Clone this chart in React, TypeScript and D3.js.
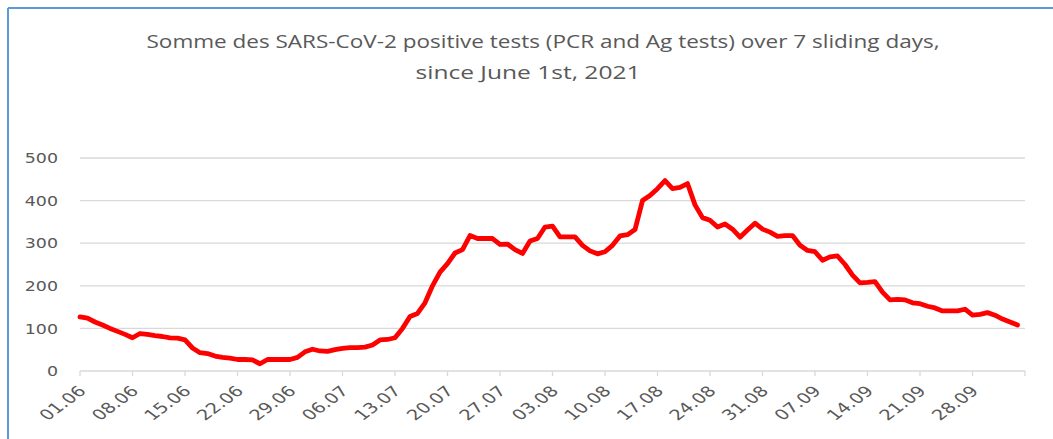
import React from "react";
import * as d3 from "d3";

const titleLines = [
  "Somme des SARS-CoV-2 positive tests (PCR and Ag tests) over 7 sliding days,",
  "since June 1st, 2021",
];

const startDate = new Date(2021, 5, 1);

const values: number[] = [
  127, 124, 115, 108, 100, 93, 86, 78, 88, 86,
  83, 81, 78, 77, 73, 54, 43, 41, 35, 32,
  30, 27, 27, 26, 17, 27, 27, 27, 27, 32,
  45, 51, 47, 46, 50, 53, 55, 55, 56, 61,
  73, 74, 78, 100, 128, 135, 160, 200, 232, 252,
  277, 285, 318, 311, 311, 311, 297, 298, 285, 276,
  305, 311, 338, 340, 315, 315, 315, 295, 282, 275,
  280, 295, 317, 320, 332, 400, 412, 428, 447, 428,
  431, 440, 390, 360, 354, 338, 345, 333, 314, 331,
  347, 333, 326, 316, 318, 318, 295, 283, 280, 260,
  268, 270, 250, 225, 207, 208, 210, 185, 167, 168,
  167, 160, 158, 152, 148, 141, 141, 141, 145, 131,
  133, 137, 131, 122, 115, 108,
];

const yTicks = [0, 100, 200, 300, 400, 500];
const labelEvery = 7;

const W = 1053;
const H = 439;
const margin = { left: 80, right: 28, top: 158, bottom: 68 };

export default function App() {
  const n = values.length;
  const x = d3.scaleLinear().domain([0, n]).range([margin.left, W - margin.right]);
  const y = d3.scaleLinear().domain([0, 500]).range([H - margin.bottom, margin.top]);
  const line = d3
    .line<number>()
    .x((_, i) => x(i))
    .y((d) => y(d))
    .curve(d3.curveLinear);
  const fmt = d3.timeFormat("%d.%m");
  const tickIdx = d3.range(0, n, labelEvery);
  const base = y(0);
  const font = "'DejaVu Sans', sans-serif";

  return (
    <svg
      width={W}
      height={H}
      style={{ position: "fixed", left: 0, top: 0, background: "#fff" }}
    >
      <rect x={0} y={0} width={W} height={H} fill="#fff" />
      <line x1={8} y1={8} x2={W} y2={8} stroke="#5B9BD5" strokeWidth={2} />
      <line x1={8} y1={8} x2={8} y2={H} stroke="#5B9BD5" strokeWidth={2} />
      <text
        x={543}
        y={48}
        textAnchor="middle"
        fontFamily="'Open Sans', sans-serif"
        fontSize={19}
        fill="#595959"
        textLength={793}
        lengthAdjust="spacingAndGlyphs"
      >
        {titleLines[0]}
      </text>
      <text
        x={528}
        y={79}
        textAnchor="middle"
        fontFamily="'Open Sans', sans-serif"
        fontSize={19}
        fill="#595959"
        textLength={225}
        lengthAdjust="spacingAndGlyphs"
      >
        {titleLines[1]}
      </text>
      {yTicks.map((t) => (
        <g key={t}>
          <line
            x1={margin.left}
            x2={x(n)}
            y1={y(t)}
            y2={y(t)}
            stroke="#D9D9D9"
            strokeWidth={1.3}
          />
          <text
            x={0}
            y={0}
            dy="0.36em"
            textAnchor="end"
            fontFamily={font}
            fontSize={14.5}
            fill="#595959"
            transform={`translate(58 ${y(t)}) scale(1.2 1)`}
          >
            {t}
          </text>
        </g>
      ))}
      {tickIdx.concat([n]).map((i) => (
        <line
          key={"t" + i}
          x1={x(i)}
          x2={x(i)}
          y1={base}
          y2={base + 5}
          stroke="#D9D9D9"
          strokeWidth={1.3}
        />
      ))}
      {tickIdx.map((i) => {
        const d = d3.timeDay.offset(startDate, i);
        const lx = x(i) + 7;
        const ly = base + 21;
        return (
          <text
            key={"l" + i}
            x={0}
            y={0}
            textAnchor="end"
            fontFamily={font}
            fontSize={14.5}
            fill="#595959"
            transform={`translate(${lx} ${ly}) scale(1.35 1) rotate(-45)`}
          >
            {fmt(d)}
          </text>
        );
      })}
      <path
        d={line(values) || ""}
        fill="none"
        stroke="#FF0000"
        strokeWidth={4.8}
        strokeLinejoin="round"
        strokeLinecap="round"
      />
    </svg>
  );
}
